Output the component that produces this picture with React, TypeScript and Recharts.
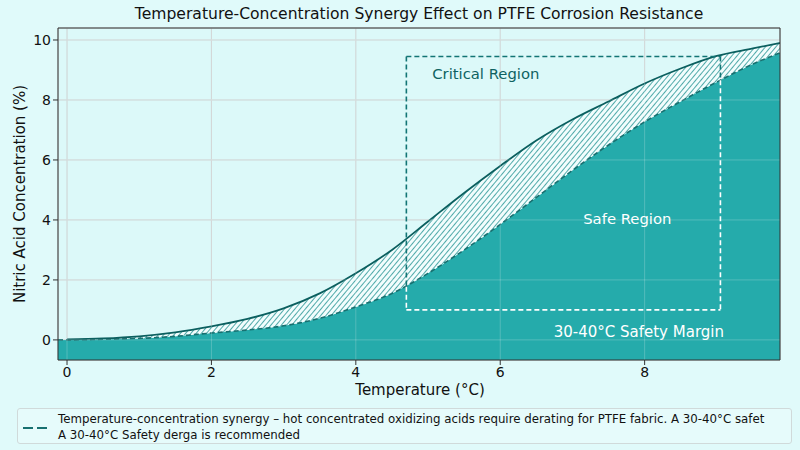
import React from "react";
import {
  ComposedChart,
  Area,
  Line,
  XAxis,
  YAxis,
  CartesianGrid,
  ReferenceLine,
  ReferenceDot,
  Label,
} from "recharts";

// temperature steps (x) and the two limit curves
const temps = [0, 0.5, 1, 1.5, 2, 2.5, 3, 3.5, 4, 4.5, 5, 5.5, 6, 6.5, 7, 7.5, 8, 8.5, 9, 9.5, 9.875];
const upperLimit = [0.02, 0.05, 0.12, 0.25, 0.45, 0.7, 1.05, 1.55, 2.22, 3.0, 3.95, 4.9, 5.8, 6.65, 7.35, 7.95, 8.55, 9.05, 9.47, 9.72, 9.9];
const safeLimit = [0, 0.02, 0.05, 0.12, 0.23, 0.33, 0.47, 0.72, 1.1, 1.55, 2.22, 3.0, 3.85, 4.75, 5.65, 6.5, 7.27, 7.95, 8.6, 9.2, 9.57];

const xTicks = [0, 2, 4, 6, 8];
const yTicks = [0, 2, 4, 6, 8, 10];
const xDomain: [number, number] = [-0.125, 9.875];
const yDomain: [number, number] = [-0.67, 10.4];

// critical region box: [x0, x1], [y0, y1], plus where the safe curve crosses its sides
const boxX = [4.7, 9.05];
const boxY = [1.0, 9.45];
const boxCross = [1.77, 8.66];

const legendLines = [
  "Temperature-concentration synergy – hot concentrated oxidizing acids require derating for PTFE fabric. A 30-40°C safet",
  "A 30-40°C Safety derga is recommended",
];

const TEAL = "#1aa7a7";
const DARK = "#0b5f5f";
const BG = "#e0fafa";
const FONT = "DejaVu Sans, sans-serif";

const data = [
  { t: xDomain[0], safe: 0, fillRange: [yDomain[0], 0], upper: null, band: null },
  ...temps.map((t, i) => ({
    t,
    upper: upperLimit[i],
    safe: safeLimit[i],
    band: [safeLimit[i], upperLimit[i]],
    fillRange: [yDomain[0], safeLimit[i]],
  })),
];

const tickStyle = { fontSize: 14, fill: "#111", fontFamily: FONT };

const App: React.FC = () => {
  const seg = (a: [number, number], b: [number, number], color: string, key: string) => (
    <ReferenceLine
      key={key}
      segment={[
        { x: a[0], y: a[1] },
        { x: b[0], y: b[1] },
      ]}
      stroke={color}
      strokeWidth={1.6}
      strokeDasharray="5 3"
      ifOverflow="visible"
    />
  );

  return (
    <div
      style={{
        position: "absolute",
        left: 0,
        top: 0,
        width: 800,
        height: 450,
        background: BG,
        fontFamily: FONT,
      }}
    >
      <div
        style={{
          position: "absolute",
          top: 5,
          left: 0,
          width: 838,
          textAlign: "center",
          fontSize: 15.6,
          color: "#111",
        }}
      >
        Temperature-Concentration Synergy Effect on PTFE Corrosion Resistance
      </div>
      <ComposedChart
        width={800}
        height={400}
        data={data}
        margin={{ top: 28, right: 20, left: 0, bottom: 0 }}
        style={{ position: "absolute", left: 0, top: 0 }}
      >
        <defs>
          <pattern
            id="hatch"
            patternUnits="userSpaceOnUse"
            width="4"
            height="4"
            patternTransform="rotate(40)"
          >
            <rect width="4" height="4" fill="#f2fdfd" />
            <line x1="0" y1="0" x2="0" y2="4" stroke="#1b8f8f" strokeWidth="1.5" />
          </pattern>
        </defs>
        <CartesianGrid stroke="#c6cccc" strokeWidth={1} fill="#dcf9f9" />
        <XAxis
          dataKey="t"
          type="number"
          domain={xDomain}
          allowDataOverflow
          ticks={xTicks}
          height={40}
          tick={tickStyle}
          tickLine={{ stroke: "#333" }}
          axisLine={{ stroke: "#333" }}
          tickSize={5}
        />
        <YAxis
          type="number"
          domain={yDomain}
          allowDataOverflow
          ticks={yTicks}
          width={58}
          tick={tickStyle}
          tickLine={{ stroke: "#333" }}
          axisLine={{ stroke: "#333" }}
          tickSize={5}
        >
          <Label
            value="Nitric Acid Concentration (%)"
            angle={-90}
            position="insideLeft"
            offset={20}
            style={{ fontSize: 15, fill: "#111", fontFamily: FONT, textAnchor: "middle" }}
          />
        </YAxis>
        <Area
          dataKey="fillRange"
          type="monotone"
          stroke="none"
          fill={TEAL}
          fillOpacity={0.95}
          isAnimationActive={false}
        />
        <Area
          dataKey="band"
          type="monotone"
          stroke="none"
          fill="url(#hatch)"
          fillOpacity={1}
          isAnimationActive={false}
        />
        <Line
          dataKey="safe"
          type="monotone"
          stroke="#177070"
          strokeWidth={1.6}
          strokeDasharray="5 3"
          dot={false}
          isAnimationActive={false}
        />
        <Line
          dataKey="upper"
          type="monotone"
          stroke={DARK}
          strokeWidth={1.8}
          dot={false}
          isAnimationActive={false}
        />
        {yTicks.map((y) => (
          <ReferenceLine key={"gy" + y} y={y} stroke="#ffffff" strokeOpacity={0.22} />
        ))}
        {xTicks.map((x) => (
          <ReferenceLine key={"gx" + x} x={x} stroke="#ffffff" strokeOpacity={0.22} />
        ))}
        {seg([boxX[0], boxY[1]], [boxX[1], boxY[1]], "#127575", "top")}
        {seg([boxX[0], boxY[1]], [boxX[0], boxCross[0]], "#127575", "lt")}
        {seg([boxX[0], boxCross[0]], [boxX[0], boxY[0]], "#ffffff", "lb")}
        {seg([boxX[1], boxY[1]], [boxX[1], boxCross[1]], "#127575", "rt")}
        {seg([boxX[1], boxCross[1]], [boxX[1], boxY[0]], "#ffffff", "rb")}
        {seg([boxX[0], boxY[0]], [boxX[1], boxY[0]], "#ffffff", "bot")}
        <ReferenceLine y={yDomain[1]} stroke="#333" ifOverflow="visible" />
        <ReferenceLine x={xDomain[1]} stroke="#333" ifOverflow="visible" />
        <ReferenceDot
          x={5.8}
          y={8.87}
          r={1}
          fill="none"
          stroke="none"
          label={{ value: "Critical Region", position: "center", fill: "#0e6262", fontSize: 14.8, fontFamily: FONT }}
        />
        <ReferenceDot
          x={7.76}
          y={4.03}
          r={1}
          fill="none"
          stroke="none"
          label={{ value: "Safe Region", position: "center", fill: "#ffffff", fontSize: 14.8, fontFamily: FONT }}
        />
        <ReferenceDot
          x={7.92}
          y={0.27}
          r={1}
          fill="none"
          stroke="none"
          label={{ value: "30-40°C Safety Margin", position: "center", fill: "#ffffff", fontSize: 15, fontFamily: FONT }}
        />
      </ComposedChart>
      <div
        style={{
          position: "absolute",
          left: 320,
          top: 381,
          width: 200,
          textAlign: "center",
          fontSize: 15,
          lineHeight: "18px",
          color: "#111",
        }}
      >
        Temperature (°C)
      </div>
      <div
        style={{
          position: "absolute",
          left: 17,
          top: 408,
          width: 775,
          height: 36,
          border: "1px solid #d0dada",
          borderRadius: 3,
          background: "#e6fbfb",
          boxSizing: "border-box",
        }}
      >
        <svg width={30} height={35} style={{ position: "absolute", left: 2, top: 0 }}>
          <line x1={3} y1={19} x2={30} y2={19} stroke="#177070" strokeWidth={2} strokeDasharray="10 4" />
        </svg>
        {legendLines.map((txt, i) => (
          <div
            key={i}
            style={{
              position: "absolute",
              left: 40,
              top: 3 + i * 16,
              fontSize: 11.8,
              lineHeight: "14px",
              color: "#111",
              whiteSpace: "nowrap",
            }}
          >
            {txt}
          </div>
        ))}
      </div>
    </div>
  );
};

export default App;
